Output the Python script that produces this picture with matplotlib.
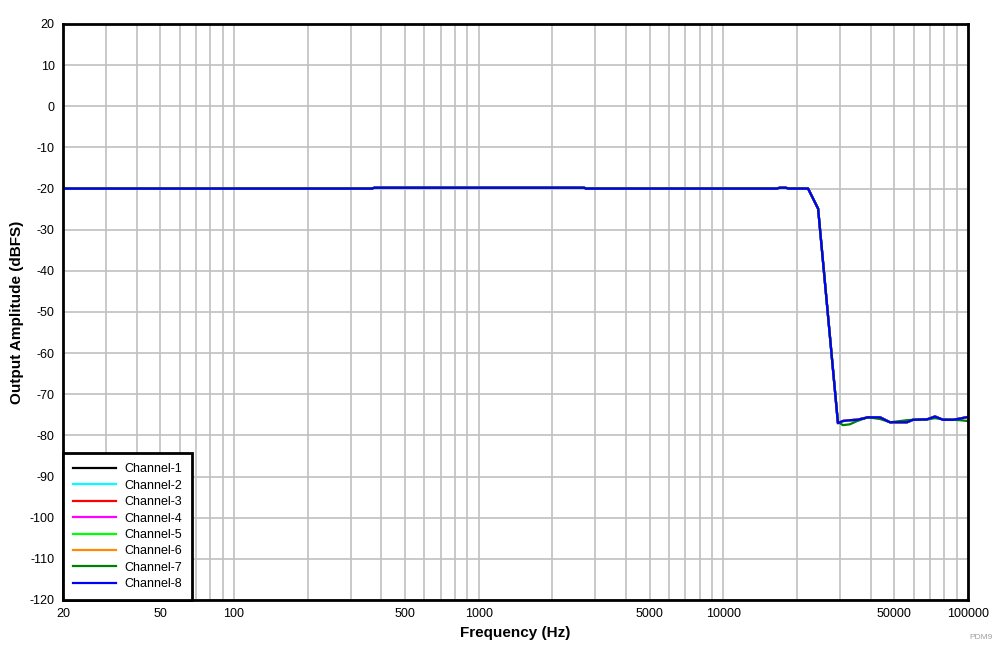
import matplotlib.pyplot as plt
from matplotlib.ticker import FixedLocator, NullFormatter, LogLocator

plt.rcParams['font.family'] = ['Liberation Sans', 'DejaVu Sans']
plt.rcParams['axes.unicode_minus'] = False

# frequency points (Hz)
freq = [20, 100, 365, 375, 1000, 2700, 2750, 10000, 16500, 17000, 18000, 18500,
        22200, 24400, 29400, 30800, 32900, 35200, 39000, 43700, 48000, 56300,
        59600, 68000, 73300, 79100, 86800, 92800, 100000]

# amplitude (dBFS), common response of most channels
resp_main = [-20.0, -20.0, -20.0, -19.8, -19.8, -19.8, -20.0, -20.0, -20.0, -19.8, -19.8, -20.0,
             -20.0, -24.9, -77.0, -76.5, -76.3, -76.2, -75.6, -75.6, -76.8, -76.8,
             -76.2, -76.1, -75.4, -76.2, -76.2, -75.9, -75.5]

# channel 7 differs slightly in the stopband
resp_ch7 = [-20.0, -20.0, -20.0, -19.8, -19.8, -19.8, -20.0, -20.0, -20.0, -19.8, -19.8, -20.0,
            -20.0, -24.9, -76.7, -77.5, -77.3, -76.5, -75.6, -76.0, -76.8, -76.3,
            -76.2, -76.1, -75.8, -76.1, -76.2, -76.3, -76.5]

channels = ['Channel-1', 'Channel-2', 'Channel-3', 'Channel-4',
            'Channel-5', 'Channel-6', 'Channel-7', 'Channel-8']
colors = ['black', 'cyan', 'red', 'magenta', 'lime', 'darkorange', 'green', 'blue']

xticks = [20, 50, 100, 500, 1000, 5000, 10000, 50000, 100000]
yticks = list(range(-120, 21, 10))

fig = plt.figure(figsize=(10.08, 6.52), dpi=100)
ax = fig.add_axes([63 / 1008, 1 - 600 / 652, 905 / 1008, 576 / 652])

for name, c in zip(channels, colors):
    y = resp_ch7 if name == 'Channel-7' else resp_main
    ax.plot(freq, y, color=c, lw=1.6, label=name)

ax.set_xscale('log')
ax.set_xlim(20, 100000)
ax.set_ylim(-120, 20)
ax.xaxis.set_major_locator(FixedLocator(xticks))
ax.set_xticklabels([str(t) for t in xticks])
ax.xaxis.set_minor_locator(LogLocator(base=10, subs=range(1, 10)))
ax.xaxis.set_minor_formatter(NullFormatter())
ax.set_yticks(yticks)

ax.grid(True, which='both', axis='x', color='#c0c0c0', lw=1.2)
ax.grid(True, which='major', axis='y', color='#c0c0c0', lw=1.2)
ax.set_axisbelow(True)
ax.tick_params(which='both', length=0, labelsize=9, pad=6)

for s in ax.spines.values():
    s.set_linewidth(2)
    s.set_color('black')

ax.set_xlabel('Frequency (Hz)', fontsize=11, fontweight='bold', labelpad=4)
ax.set_ylabel('Output Amplitude (dBFS)', fontsize=11, fontweight='bold', labelpad=4)

leg = ax.legend(loc='lower left', fontsize=9, fancybox=False, framealpha=1,
                edgecolor='black', borderaxespad=0, handlelength=3.4,
                handletextpad=0.7, labelspacing=0.35, borderpad=0.8)
leg.get_frame().set_linewidth(2)

fig.text(0.985, 0.02, 'PDM9', fontsize=6, color='#a0a0a0', ha='right')

fig.savefig('out.png', dpi=100)
